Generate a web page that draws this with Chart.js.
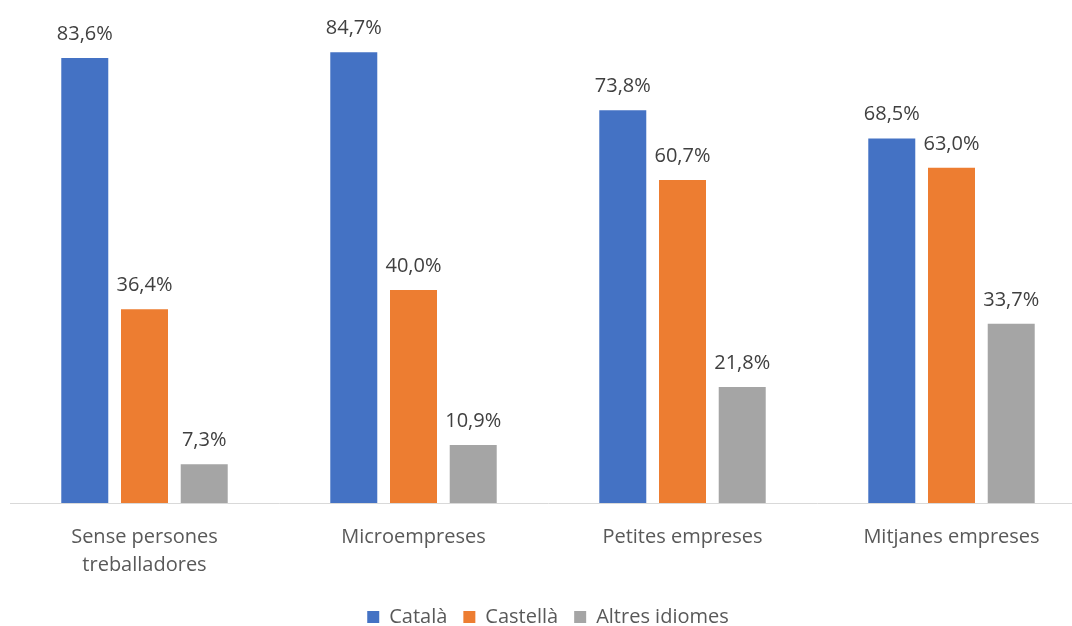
<!DOCTYPE html>
<html>
<head>
<meta charset="utf-8">
<script src="https://cdn.jsdelivr.net/npm/chart.js@4/dist/chart.umd.min.js"></script>
<style>
  html, body { margin: 0; padding: 0; background: #fff; overflow: hidden; }
  #wrap { width: 1072px; height: 626px; overflow: hidden; }
</style>
</head>
<body>
<div id="wrap"><canvas id="chart" width="1106" height="637"></canvas></div>
<script>
const categories = [['Sense persones', 'treballadores'], 'Microempreses', 'Petites empreses', 'Mitjanes empreses'];
const seriesNames = ['Català', 'Castellà', 'Altres idiomes'];
const catala = [83.6, 84.7, 73.8, 68.5];
const castella = [36.4, 40.0, 60.7, 63.0];
const altres = [7.3, 10.9, 21.8, 33.7];
const colors = ['#4472C4', '#ED7D31', '#A5A5A5'];

const FONT = '"Open Sans", sans-serif';

// draws the value labels above each bar, comma decimal like the source
const valueLabels = {
    id: 'valueLabels',
    afterDatasetsDraw(chart) {
        const ctx = chart.ctx;
        ctx.save();
        ctx.font = '20px ' + FONT;
        ctx.fillStyle = '#404040';
        ctx.textAlign = 'center';
        ctx.textBaseline = 'alphabetic';
        chart.data.datasets.forEach((ds, i) => {
            chart.getDatasetMeta(i).data.forEach((bar, j) => {
                const txt = ds.data[j].toFixed(1).replace('.', ',') + '%';
                ctx.fillText(txt, bar.x, bar.y - 18);
            });
        });
        ctx.restore();
    }
};

const ctx = document.getElementById('chart');
new Chart(ctx, {
    type: 'bar',
    data: {
        labels: categories,
        datasets: [catala, castella, altres].map((d, i) => ({
            label: seriesNames[i],
            data: d,
            backgroundColor: colors[i],
            borderWidth: 0,
            categoryPercentage: 0.666,
            barPercentage: 0.787
        }))
    },
    options: {
        responsive: false,
        animation: false,
        layout: { padding: { left: 10, right: 20, top: 24, bottom: 0 } },
        plugins: {
            legend: {
                position: 'bottom',
                labels: {
                    boxWidth: 12,
                    boxHeight: 12,
                    padding: 16,
                    color: '#595959',
                    font: { family: FONT, size: 20 }
                }
            },
            tooltip: { enabled: false }
        },
        scales: {
            x: {
                grid: { display: false },
                border: { display: true, color: '#D9D9D9', width: 1 },
                ticks: {
                    color: '#595959',
                    font: { family: FONT, size: 20, lineHeight: 1.4 },
                    padding: 12,
                    maxRotation: 0
                }
            },
            y: {
                display: false,
                min: 0,
                max: 90
            }
        }
    },
    plugins: [valueLabels]
});
</script>
</body>
</html>
